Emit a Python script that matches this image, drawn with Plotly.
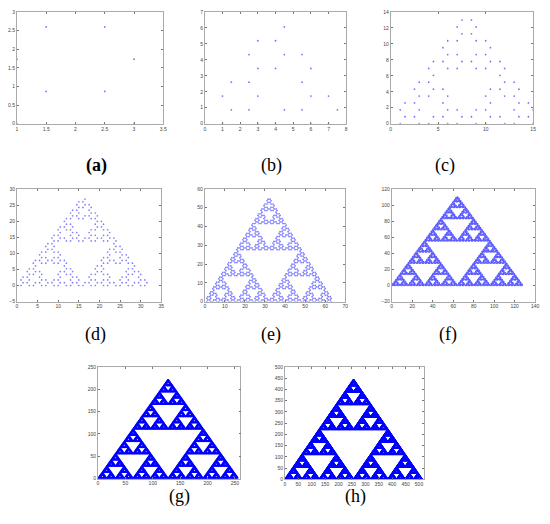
import math
import plotly.graph_objects as go

# Sierpinski arrowhead curve, one panel per order
orders = [2, 3, 4, 5, 6, 7, 8, 9]
panel_labels = ["(a)", "(b)", "(c)", "(d)", "(e)", "(f)", "(g)", "(h)"]
rules = {"A": "B-A-B", "B": "A+B+A"}
turn_deg = 60

x_ranges = [[1, 3.5], [0, 8], [0, 15], [0, 35], [0, 70], [0, 140], [0, 260], [0, 520]]
y_ranges = [[0, 3], [0, 7], [0, 14], [-5, 30], [0, 60], [-20, 120], [0, 250], [0, 500]]
x_ticks = [
    [1, 1.5, 2, 2.5, 3, 3.5],
    [0, 1, 2, 3, 4, 5, 6, 7, 8],
    [0, 5, 10, 15],
    [0, 5, 10, 15, 20, 25, 30, 35],
    [0, 10, 20, 30, 40, 50, 60, 70],
    [0, 20, 40, 60, 80, 100, 120, 140],
    [0, 50, 100, 150, 200, 250],
    [0, 50, 100, 150, 200, 250, 300, 350, 400, 450, 500],
]
y_ticks = [
    [0, 0.5, 1, 1.5, 2, 2.5, 3],
    [0, 1, 2, 3, 4, 5, 6, 7],
    [0, 2, 4, 6, 8, 10, 12, 14],
    [-5, 0, 5, 10, 15, 20, 25, 30],
    [0, 10, 20, 30, 40, 50, 60],
    [-20, 0, 20, 40, 60, 80, 100, 120],
    [0, 50, 100, 150, 200, 250],
    [0, 50, 100, 150, 200, 250, 300, 350, 400, 450, 500],
]

# page body has an 8px margin, so the figure is drawn 8px in from the corner
OFF = 8
W, H = 550 - OFF, 524 - OFF
# axes boxes in page pixels: left, right, top, bottom
boxes = [
    (15, 163, 9, 122), (205, 348, 9, 122), (393, 537, 9, 122),
    (15, 161, 188, 302), (205, 347, 188, 302), (394, 539, 188, 302),
    (97, 241, 368, 481), (286, 427, 368, 482),
]
label_pos = [(83, 152), (272, 152), (460, 152), (82, 335), (272, 335),
             (462, 335), (167, 512), (357, 512)]
marker_size = [1.8, 1.8, 1.8, 1.7, 1.7, 1.6, 1.6, 1.6]
marker_alpha = [0.55, 0.55, 0.55, 0.5, 0.55, 0.65, 1.0, 1.0]


def arrowhead(n):
    s = "A" if n % 2 == 0 else "B"
    for _ in range(n):
        s = "".join(rules.get(c, c) for c in s)
    x, y, ang = 0.0, 0.0, 0.0
    xs, ys = [x], [y]
    for c in s:
        if c in "AB":
            x += math.cos(math.radians(ang))
            y += math.sin(math.radians(ang))
            xs.append(x)
            ys.append(y)
        elif c == "+":
            ang += turn_deg
        else:
            ang -= turn_deg
    # end points are not drawn
    return xs[1:-1], ys[1:-1]


def fx(px):
    return (px - OFF) / W


def fy(py):
    return 1 - (py - OFF) / H


fig = go.Figure()
for i, n in enumerate(orders):
    xs, ys = arrowhead(n)
    k = "" if i == 0 else str(i + 1)
    fig.add_trace(go.Scatter(
        x=xs, y=ys, mode="markers", xaxis="x" + k, yaxis="y" + k,
        marker=dict(color="#0000ff", size=marker_size[i], symbol="circle", line=dict(width=0)),
        opacity=marker_alpha[i],
        hoverinfo="skip", showlegend=False,
    ))
    l, r, t, b = boxes[i]
    ax = dict(showline=True, mirror="allticks", ticks="inside", ticklen=2,
              tickwidth=0.6, tickcolor="#777", linecolor="#aaa", linewidth=0.8,
              showgrid=False, zeroline=False, ticklabeloverflow="allow",
              tickfont=dict(size=5, color="#444", family="Liberation Sans"))
    fig.update_layout(**{
        "xaxis" + k: dict(ax, domain=[fx(l), fx(r)], range=x_ranges[i],
                          tickvals=x_ticks[i], anchor="y" + k),
        "yaxis" + k: dict(ax, domain=[fy(b), fy(t)], range=y_ranges[i],
                          tickvals=y_ticks[i], anchor="x" + k),
    })
    fig.add_annotation(
        x=fx(label_pos[i][0]), y=fy(label_pos[i][1]), xref="paper", yref="paper",
        text="<b>(a)</b>" if i == 0 else panel_labels[i], showarrow=False,
        font=dict(family="Liberation Serif", size=18, color="black"),
    )

fig.update_layout(
    width=W, height=H, margin=dict(l=0, r=0, t=0, b=0),
    plot_bgcolor="white", paper_bgcolor="white",
)

fig.write_html("out.html")
